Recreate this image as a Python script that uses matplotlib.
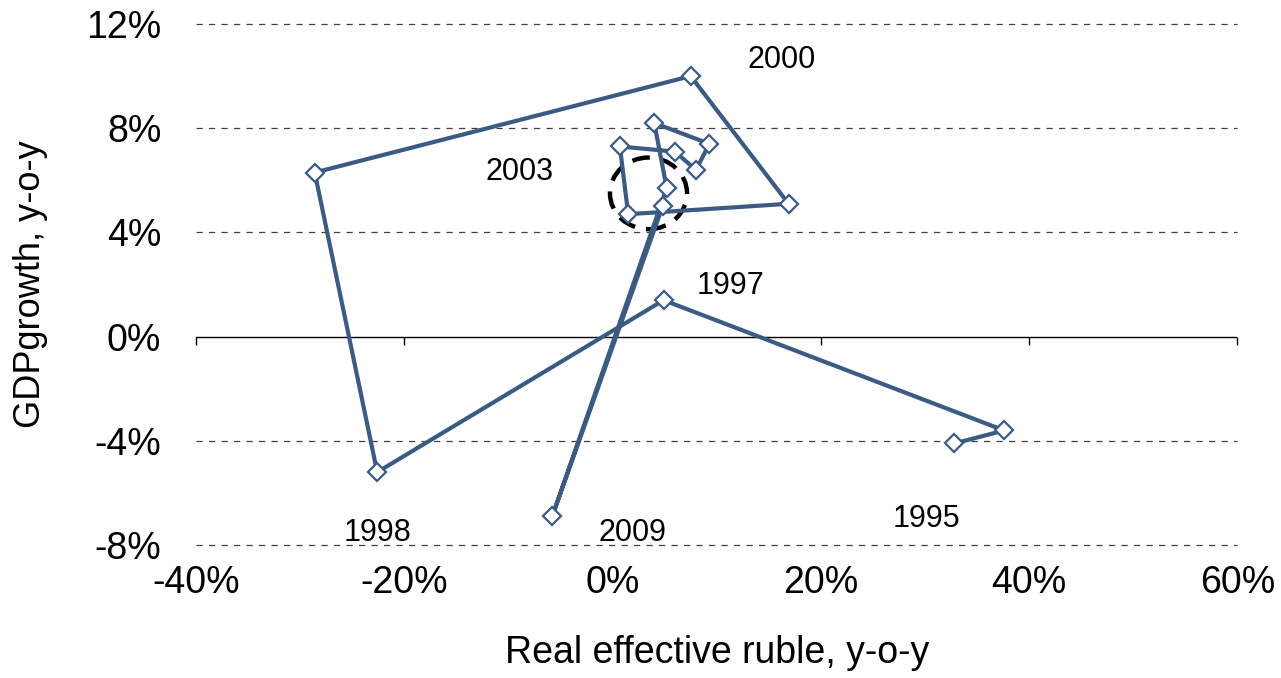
import matplotlib
matplotlib.use("Agg")
import matplotlib.pyplot as plt
from matplotlib.patches import Ellipse

plt.rcParams['font.family'] = ['Liberation Sans', 'DejaVu Sans']

years = list(range(1995, 2011))
reer = [32.8, 37.6, 4.9, -22.6, -28.6, 7.5, 16.9, 1.5, 0.7, 6.0, 8.0, 9.3, 4.0, 5.2, -5.8, 4.8]
gdp = [-4.1, -3.6, 1.4, -5.2, 6.3, 10.0, 5.1, 4.7, 7.3, 7.1, 6.4, 7.4, 8.2, 5.7, -6.9, 5.0]

label_years = ["2000", "2003", "1997", "1998", "2009", "1995"]
label_x = [16.2, -8.9, 11.3, -22.6, 1.9, 30.1]
label_y = [10.63, 6.33, 1.96, -7.52, -7.52, -7.0]

xticks = [-40, -20, 0, 20, 40, 60]
yticks = [-8, -4, 0, 4, 8, 12]

fig = plt.figure(figsize=(12.81, 6.78), dpi=100)
ax = fig.add_axes([0.153, 0.196, 0.813, 0.7686])
ax.set_xlim(-40, 60)
ax.set_ylim(-8, 12)

for yv in yticks:
    if yv == 0:
        continue
    ax.axhline(yv, color='#404040', lw=0.9, ls=(0, (5, 5)), zorder=1, clip_on=False)
ax.axhline(0, color='black', lw=1.0, zorder=1)

color = '#3B5B82'
ax.plot(reer, gdp, color=color, lw=3.0, marker='D', markersize=9,
        markerfacecolor='white', markeredgecolor=color, markeredgewidth=1.6, zorder=3)

ax.add_patch(Ellipse((3.45, 5.5), 7.4, 2.75, fill=False, ls=(0, (4, 2.5)),
                     lw=3.2, edgecolor='black', zorder=2))

for t, lx, ly in zip(label_years, label_x, label_y):
    ax.text(lx, ly, t, fontsize=22, ha='center', va='center')

for s in ax.spines.values():
    s.set_visible(False)

ax.set_xticks(xticks)
ax.set_xticklabels([f"{v}%" for v in xticks], fontsize=27)
ax.tick_params(axis='x', length=0, pad=14)
ax.set_yticks(yticks)
ax.set_yticklabels([f"{v}%" for v in yticks], fontsize=27)
ax.tick_params(axis='y', length=0, pad=25)

sec = ax.secondary_xaxis(0.4)
sec.set_xticks(xticks)
sec.set_xticklabels([])
sec.tick_params(axis='x', direction='out', length=6, width=1, color='black')
sec.spines['bottom'].set_visible(False)

ax.set_xlabel("Real effective ruble, y-o-y", fontsize=27, va='center')
ax.xaxis.set_label_coords(0.5, (545 - 653) / 521)
ax.set_ylabel("GDPgrowth, y-o-y", fontsize=26, va='center')
ax.yaxis.set_label_coords((30 - 196) / 1042, 0.5)

fig.savefig("out.png", dpi=100)
